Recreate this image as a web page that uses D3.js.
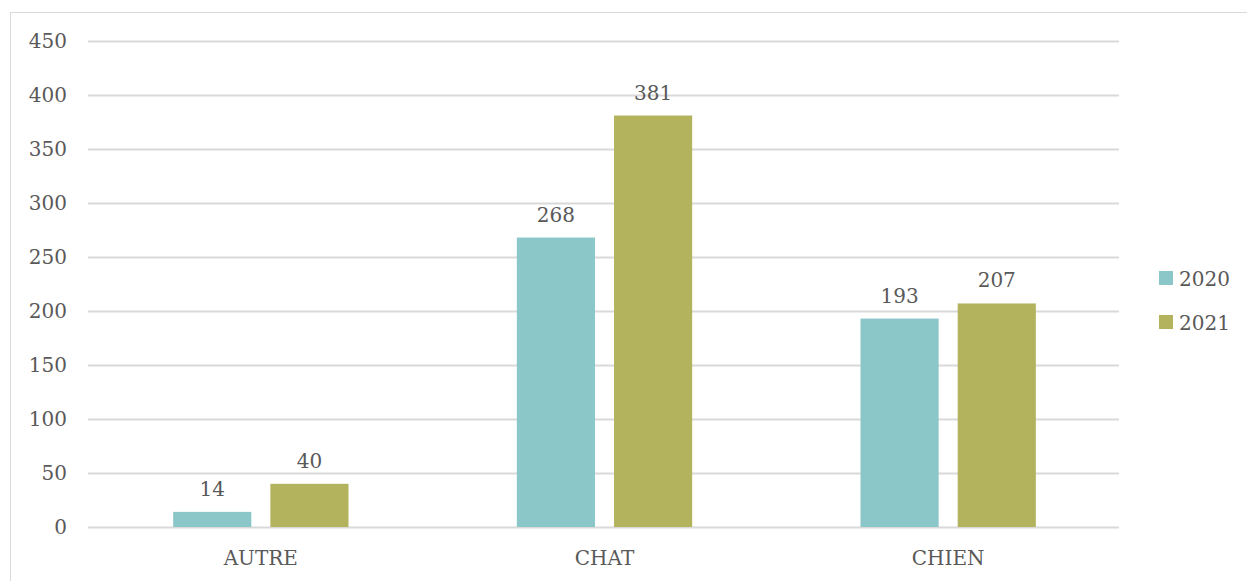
<!DOCTYPE html>
<html><head><meta charset="utf-8">
<script src="https://cdn.jsdelivr.net/npm/d3@7"></script>
<style>body{margin:0;background:#fff}svg{display:block}text{font-family:"DejaVu Serif",serif;fill:#595959}</style>
</head><body><svg id="c" width="1247" height="581"></svg>
<script>
const categories = ["AUTRE", "CHAT", "CHIEN"];
const seriesNames = ["2020", "2021"];
const values2020 = [14, 268, 193];
const values2021 = [40, 381, 207];
const yTicks = [0, 50, 100, 150, 200, 250, 300, 350, 400, 450];
const colors = ["#8BC7C8", "#B4B35D"];
const seriesValues = [values2020, values2021];

const svg = d3.select("#c");
svg.append("rect").attr("x",10.5).attr("y",12.5).attr("width",1300).attr("height",700)
  .attr("fill","none").attr("stroke","#d9d9d9").attr("stroke-width",1);

const L=88, R=1119, T=41, B=527;
const y = d3.scaleLinear().domain([0,450]).range([B,T]);
const x0 = d3.scaleBand().domain(categories).range([L,R]).padding(0);
const x1 = d3.scaleBand().domain(seriesNames).range([0,x0.bandwidth()]).paddingInner(0.196).paddingOuter(0.866);

const fs = 20;
const g = svg.append("g");
yTicks.forEach(t=>{
  g.append("line").attr("x1",L).attr("x2",R).attr("y1",Math.round(y(t))+0.5).attr("y2",Math.round(y(t))+0.5)
   .attr("stroke","#d9d9d9").attr("stroke-width",2);
  g.append("text").attr("x",67).attr("y",y(t)+7).attr("text-anchor","end").attr("font-size",fs).text(t);
});

categories.forEach((c,i)=>{
  seriesNames.forEach((s,j)=>{
    const v = seriesValues[j][i];
    const bx = x0(c)+x1(s);
    svg.append("rect").attr("x",bx+1).attr("y",y(v)).attr("width",x1.bandwidth()).attr("height",B-y(v))
      .attr("fill",colors[j]);
    svg.append("text").attr("x",bx+1+x1.bandwidth()/2).attr("y",y(v)-16).attr("text-anchor","middle")
      .attr("font-size",fs).text(v);
  });
  svg.append("text").attr("x",x0(c)+x0.bandwidth()/2+1).attr("y",565).attr("text-anchor","middle")
    .attr("font-size",fs).text(c);
});

const legY=[278, 322];
seriesNames.forEach((s,j)=>{
  svg.append("rect").attr("x",1159).attr("y",legY[j]-7).attr("width",14).attr("height",14).attr("fill",colors[j]);
  svg.append("text").attr("x",1179).attr("y",legY[j]+8).attr("font-size",fs).text(s);
});
</script></body></html>
